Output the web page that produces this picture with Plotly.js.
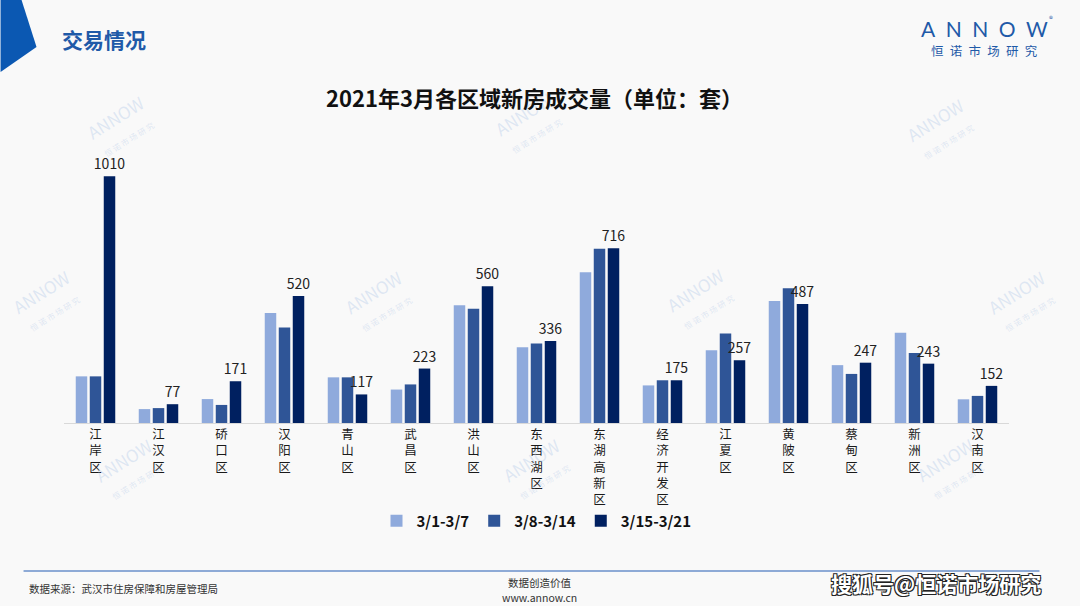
<!DOCTYPE html>
<html lang="zh-CN">
<head>
    <meta charset="UTF-8">
    <title>2021年3月各区域新房成交量</title>
    <script src="https://cdn.plot.ly/plotly-3.0.1.min.js"></script>
    <style>
        html, body { margin: 0; padding: 0; background: #f9f9f9; }
        #chart { width: 1080px; height: 606px; }
    </style>
</head>
<body>
    <div id="chart"></div>
    <script>
        // districts and weekly sales (units)
        const districts = ['江岸区', '江汉区', '硚口区', '汉阳区', '青山区', '武昌区', '洪山区', '东西湖区',
            '东湖高新区', '经济开发区', '江夏区', '黄陂区', '蔡甸区', '新洲区', '汉南区'];
        const weekNames = ['3/1-3/7', '3/8-3/14', '3/15-3/21'];
        const week1 = [191, 57, 98, 450, 187, 137, 482, 310, 617, 154, 298, 500, 237, 370, 97];
        const week2 = [191, 61, 74, 391, 187, 158, 468, 326, 714, 175, 367, 552, 201, 287, 111];
        const week3 = [1010, 77, 171, 520, 117, 223, 560, 336, 716, 175, 257, 487, 247, 243, 152];

        const FONT = '"Noto Sans CJK SC", "Noto Sans", sans-serif';
        const W = 1080, H = 606;
        const M = { l: 63.5, r: 70.5, t: 150, b: 183 };
        const plotW = W - M.l - M.r, plotH = H - M.t - M.b;
        // page pixels -> paper coordinates
        const px = x => (x - M.l) / plotW;
        const py = y => (H - M.b - y) / plotH;

        const colors = ['#8faadc', '#2f5597', '#002060'];
        const series = [week1, week2, week3];

        const traces = series.map((vals, i) => ({
            type: 'bar',
            name: weekNames[i],
            x: districts,
            y: vals,
            marker: { color: colors[i] },
            text: i === 2 ? vals.map(String) : undefined,
            textposition: i === 2 ? 'outside' : 'none',
            textfont: { family: FONT, size: 14, color: '#222' },
            constraintext: 'none',
            cliponaxis: false,
            hoverinfo: 'x+y+name'
        }));

        // small helper for free text placed in page pixels
        function note(x, y, text, font, extra) {
            return Object.assign({
                xref: 'paper', yref: 'paper', x: px(x), y: py(y),
                xanchor: 'center', yanchor: 'middle', showarrow: false,
                text: text, font: font
            }, extra || {});
        }

        // faint rotated logo watermarks
        const marks = [[120, 125], [528, 122], [940, 128], [45, 300], [378, 300], [700, 298], [1022, 300],
            [128, 468], [536, 468], [950, 468]];
        const annotations = marks.map(([x, y]) => note(x, y,
            'ANNOW<br><span style="font-size:8px">恒 诺 市 场 研 究</span>',
            { family: FONT, size: 17, color: 'rgba(170,195,230,0.35)' }, { textangle: -32 }));

        annotations.push(
            note(59, 39, '<b>交易情况</b>', { family: FONT, size: 21, color: '#1f5aa8' }, { xanchor: 'left' }),
            note(534, 97, '<b>2021年3月各区域新房成交量（单位：套）</b>', { family: FONT, size: 22, color: '#111' }),
            note(985, 28, 'A\u2002N\u2002N\u2002O\u2002W', { family: 'Lato, sans-serif', size: 21, color: '#1f5aa8' }),
            note(1052, 19, '®', { family: FONT, size: 8, color: '#1f5aa8' }),
            note(985, 51, '恒\u2002诺\u2002市\u2002场\u2002研\u2002究', { family: FONT, size: 12.5, color: '#1f5aa8' }),
            note(26, 588, '数据来源：武汉市住房保障和房屋管理局', { family: FONT, size: 10.5, color: '#333' }, { xanchor: 'left' }),
            note(540, 582, '数据创造价值', { family: FONT, size: 10.5, color: '#333' }),
            note(540, 597, 'www.annow.cn', { family: FONT, size: 10.5, color: '#333' }),
            note(936, 583, '<b>搜狐号@恒诺市场研究</b>', {
                family: FONT, size: 21, color: '#ffffff',
                shadow: '1px 1px 0 #222, -1px -1px 0 #222, 1px -1px 0 #222, -1px 1px 0 #222'
            })
        );

        const shapes = [
            // blue corner tab
            {
                type: 'path', xref: 'paper', yref: 'paper', layer: 'above',
                path: `M${px(0)},${py(0)} L${px(21)},${py(0)} L${px(36)},${py(47)} L${px(0)},${py(72)} Z`,
                fillcolor: '#0b58b2', line: { width: 0 }
            },
            // footer rule
            {
                type: 'line', xref: 'paper', yref: 'paper',
                x0: px(23), x1: px(1040), y0: py(571), y1: py(571),
                line: { color: '#8eaad6', width: 2 }
            }
        ];

        const layout = {
            width: W, height: H,
            margin: M,
            paper_bgcolor: '#f9f9f9',
            plot_bgcolor: '#f9f9f9',
            barmode: 'group',
            bargap: 0.333,
            bargroupgap: 0.18,
            font: { family: FONT, color: '#222' },
            showlegend: true,
            legend: {
                orientation: 'h', x: 0.5, xanchor: 'center', y: py(521), yanchor: 'middle',
                font: { family: FONT, size: 15, color: '#111', weight: 'bold' },
                bgcolor: 'rgba(0,0,0,0)', itemclick: false, itemwidth: 30
            },
            xaxis: {
                type: 'category',
                tickvals: districts,
                ticktext: districts.map(d => d.split('').join('<br>')),
                tickfont: { family: FONT, size: 12.5, color: '#1a1a1a' },
                showline: true, linecolor: '#d9d9d9', linewidth: 1,
                ticks: '', showgrid: false, zeroline: false,
                fixedrange: true
            },
            yaxis: {
                range: [0, 1118],
                showgrid: false, zeroline: false, showticklabels: false, showline: false,
                fixedrange: true
            },
            annotations: annotations,
            shapes: shapes
        };

        Plotly.newPlot('chart', traces, layout, { displayModeBar: false });
    </script>
</body>
</html>
